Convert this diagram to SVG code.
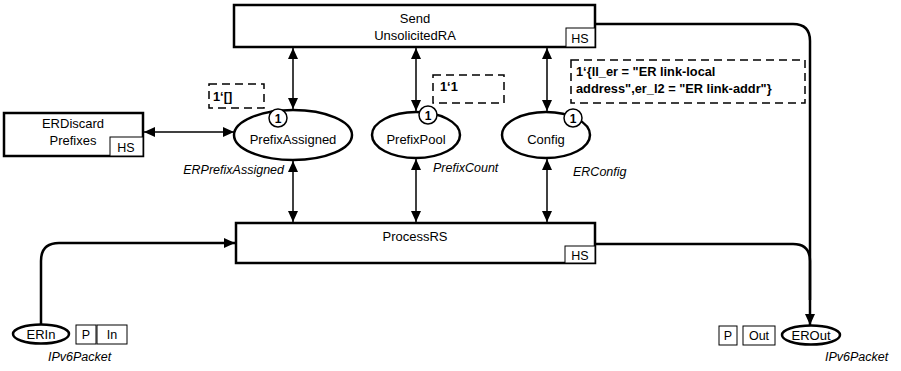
<svg xmlns="http://www.w3.org/2000/svg" width="901" height="371" viewBox="0 0 901 371">
<style>
text{font-family:"Liberation Sans",Arial,sans-serif;fill:#000}
.lbl{font-size:13px;text-anchor:middle}
.hs{font-size:12.5px;text-anchor:middle}
.typ{font-size:12.5px;font-style:italic}
.ins{font-size:12.8px;font-weight:bold}
.tok{font-size:12px;font-weight:bold;text-anchor:middle}
.trans{fill:#fff;stroke:#000;stroke-width:2.5}
.place{fill:#fff;stroke:#000;stroke-width:2.5}
.tag{fill:#fff;stroke:#000;stroke-width:1}
.tokc{fill:#fff;stroke:#000;stroke-width:1.5}
.dash{fill:none;stroke:#000;stroke-width:1.5;stroke-dasharray:8,5}
.arc{fill:none;stroke:#000;stroke-width:1.5}
.arcb{fill:none;stroke:#000;stroke-width:2.5}
</style>
<defs>
<marker id="ah" markerUnits="userSpaceOnUse" markerWidth="12" markerHeight="10" refX="11" refY="5" orient="auto-start-reverse">
<path d="M0,0 L11,5 L0,10 Z" fill="#000"/>
</marker>
</defs>
<g id="connectors">
<line class="arc" x1="293" y1="48" x2="293" y2="109" marker-start="url(#ah)" marker-end="url(#ah)"/>
<line class="arc" x1="416" y1="48" x2="416" y2="111" marker-start="url(#ah)" marker-end="url(#ah)"/>
<line class="arc" x1="547" y1="48" x2="547" y2="111" marker-start="url(#ah)" marker-end="url(#ah)"/>
<line class="arc" x1="144" y1="132" x2="234" y2="132" marker-start="url(#ah)" marker-end="url(#ah)"/>
<line class="arc" x1="293" y1="161" x2="293" y2="222" marker-start="url(#ah)" marker-end="url(#ah)"/>
<line class="arc" x1="416" y1="159" x2="416" y2="222" marker-start="url(#ah)" marker-end="url(#ah)"/>
<line class="arc" x1="547" y1="159" x2="547" y2="222" marker-start="url(#ah)" marker-end="url(#ah)"/>
<path class="arcb" d="M41,324 V261 Q41,243 59,243 H235" marker-end="url(#ah)"/>
<path class="arcb" d="M596,24 H793 Q810,24 810,41 V325" marker-end="url(#ah)"/>
<path class="arcb" d="M596,244 H793 Q810,244 810,261 V300"/>
</g>
<g id="SendUnsolicitedRA">
<rect class="trans" x="234" y="5" width="361" height="42"/>
<rect class="tag" x="566" y="28" width="29" height="19"/>
<text class="lbl" x="415" y="23">Send</text>
<text class="lbl" x="415" y="40">UnsolicitedRA</text>
<text class="hs" x="580" y="43">HS</text>
</g>
<g id="ProcessRS">
<rect class="trans" x="236" y="223" width="359" height="40"/>
<rect class="tag" x="565" y="246" width="30" height="17"/>
<text class="lbl" x="415" y="241">ProcessRS</text>
<text class="hs" x="580" y="260">HS</text>
</g>
<g id="ERDiscardPrefixes">
<rect class="trans" x="4" y="113" width="139" height="43"/>
<rect class="tag" x="110" y="137" width="33" height="19"/>
<text class="lbl" x="73" y="128">ERDiscard</text>
<text class="lbl" x="73" y="145">Prefixes</text>
<text class="hs" x="126" y="152">HS</text>
</g>
<g id="PrefixAssigned">
<ellipse class="place" cx="293" cy="135" rx="59" ry="25"/>
<text class="lbl" x="293" y="144">PrefixAssigned</text>
<circle class="tokc" cx="278" cy="118" r="9"/>
<text class="tok" x="278" y="122.5">1</text>
<rect class="dash" x="209" y="84" width="55" height="24"/>
<text class="ins" x="213" y="101">1‘[]</text>
<text class="typ" x="284" y="174" text-anchor="end">ERPrefixAssigned</text>
</g>
<g id="PrefixPool">
<ellipse class="place" cx="416" cy="135" rx="44" ry="23"/>
<text class="lbl" x="416" y="144">PrefixPool</text>
<circle class="tokc" cx="428" cy="115" r="9"/>
<text class="tok" x="428" y="119.5">1</text>
<rect class="dash" x="433" y="75" width="71" height="28"/>
<text class="ins" x="440" y="91">1‘1</text>
<text class="typ" x="433" y="172">PrefixCount</text>
</g>
<g id="Config">
<ellipse class="place" cx="546" cy="135" rx="44" ry="23"/>
<text class="lbl" x="546" y="144">Config</text>
<circle class="tokc" cx="573" cy="118" r="9"/>
<text class="tok" x="573" y="122.5">1</text>
<rect class="dash" x="571" y="60" width="234" height="43"/>
<text class="ins" x="576" y="76">1‘{ll_er = "ER link-local</text>
<text class="ins" x="576" y="93">address",er_l2 = "ER link-addr"}</text>
<text class="typ" x="573" y="176">ERConfig</text>
</g>
<g id="ERIn">
<ellipse class="place" cx="41" cy="334" rx="28" ry="9.5"/>
<text class="lbl" x="41" y="339">ERIn</text>
<rect class="tag" x="76" y="325" width="20" height="19"/>
<text class="hs" x="86" y="339">P</text>
<rect class="tag" x="97" y="325" width="30" height="19"/>
<text class="hs" x="112" y="339">In</text>
<text class="typ" x="48" y="361">IPv6Packet</text>
</g>
<g id="EROut">
<ellipse class="place" cx="811" cy="335" rx="29" ry="9.5"/>
<text class="lbl" x="811" y="340">EROut</text>
<rect class="tag" x="719" y="326" width="18" height="19"/>
<text class="hs" x="728" y="340">P</text>
<rect class="tag" x="743" y="326" width="32" height="19"/>
<text class="hs" x="759" y="340">Out</text>
<text class="typ" x="825" y="361">IPv6Packet</text>
</g>
</svg>
